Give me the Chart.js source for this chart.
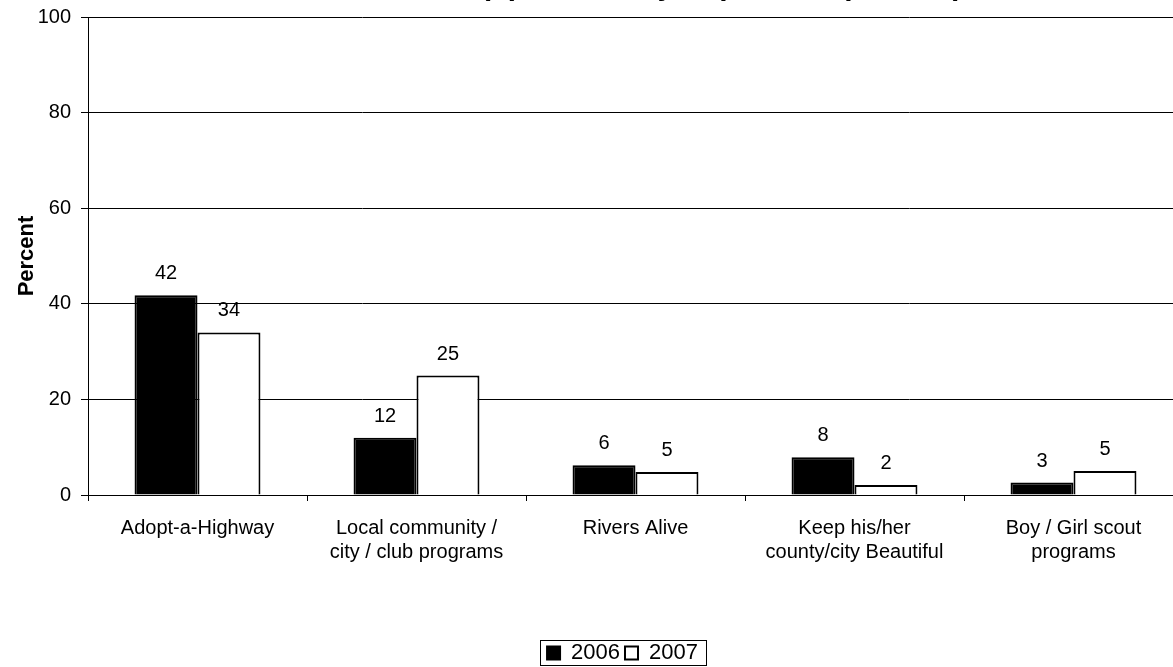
<!DOCTYPE html>
<html>
<head>
<meta charset="utf-8">
<script src="https://cdn.jsdelivr.net/npm/chart.js@4.4.1/dist/chart.umd.min.js"></script>
<style>
  html, body { margin: 0; padding: 0; background: #fff; }
  #wrap { position: relative; width: 1173px; height: 667px; overflow: hidden; background: #fff; }
  #box { position: absolute; left: 0; top: -67px; width: 1224px; height: 734px; }
</style>
</head>
<body>
<div id="wrap">
  <div id="box"><canvas id="chart"></canvas></div>
</div>
<script>
// data
const categories = [
    'Adopt-a-Highway',
    ['Local community /', 'city / club programs'],
    'Rivers Alive',
    ['Keep his/her', 'county/city Beautiful'],
    ['Boy / Girl scout', 'programs']
];
const values2006 = [41.8, 12, 6.2, 7.9, 2.6];
const values2007 = [34, 25, 4.8, 2.1, 5];
const seriesNames = ['2006', '2007'];
const yTicks = [0, 20, 40, 60, 80, 100];
const titleLines = ['Participation in Litter Cleanup Programs (Among', 'All Volunteers) (Asked only of persons present)'];

const FONT = "'Liberation Sans', Arial, sans-serif";

// title and legend sit a little right of the canvas centre in the original
const nudgeBoxes = {
    id: 'nudgeBoxes',
    afterLayout(chart) {
        if (chart.titleBlock) { chart.titleBlock.left += 33; chart.titleBlock.right += 33; }
        if (chart.legend) { chart.legend.left += 31; chart.legend.right += 31; }
    }
};

// numbers above the bars
const barLabels = {
    id: 'barLabels',
    afterDatasetsDraw(chart) {
        const ctx = chart.ctx;
        ctx.save();
        ctx.font = '20px ' + FONT;
        ctx.fillStyle = '#000';
        ctx.textAlign = 'center';
        ctx.textBaseline = 'alphabetic';
        chart.data.datasets.forEach((ds, i) => {
            chart.getDatasetMeta(i).data.forEach((bar, j) => {
                ctx.fillText(Math.round(ds.data[j]), bar.x, bar.y - 16);
            });
        });
        ctx.restore();
    }
};

// thin frame round the legend, like the original
const legendFrame = {
    id: 'legendFrame',
    afterDraw(chart) {
        const boxes = chart.legend.legendHitBoxes;
        if (!boxes || !boxes.length) return;
        const first = boxes[0], last = boxes[boxes.length - 1];
        const ctx = chart.ctx;
        ctx.save();
        ctx.strokeStyle = '#000';
        ctx.lineWidth = 1;
        const x1 = Math.round(first.left) - 6.5;
        const x2 = Math.round(last.left + last.width) + 8.5;
        const y1 = Math.round(first.top) - 1.5;
        const y2 = Math.round(first.top + first.height) + 1.5;
        ctx.strokeRect(x1, y1, x2 - x1, y2 - y1);
        ctx.restore();
    }
};

new Chart(document.getElementById('chart'), {
    type: 'bar',
    data: {
        labels: categories,
        datasets: [
            {
                label: seriesNames[0],
                data: values2006,
                backgroundColor: '#000',
                borderColor: '#000',
                borderWidth: 2
            },
            {
                label: seriesNames[1],
                data: values2007,
                backgroundColor: '#fff',
                borderColor: '#000',
                borderWidth: 2
            }
        ]
    },
    options: {
        responsive: true,
        maintainAspectRatio: false,
        animation: false,
        datasets: { bar: { categoryPercentage: 0.575, barPercentage: 1.0 } },
        layout: { padding: { left: 0, right: 41, top: 0, bottom: -7 } },
        plugins: {
            title: {
                display: true,
                text: titleLines,
                color: '#000',
                font: { family: FONT, size: 30, weight: 'bold', lineHeight: 1.2 },
                padding: { top: 0, bottom: 12 }
            },
            legend: {
                position: 'bottom',
                labels: {
                    color: '#000',
                    font: { family: FONT, size: 22 },
                    boxWidth: 13,
                    boxHeight: 13,
                    padding: 5
                }
            },
            tooltip: { enabled: false }
        },
        scales: {
            x: {
                grid: { drawOnChartArea: false, drawTicks: true, tickLength: 6, color: '#000', offset: true },
                border: { color: '#000' },
                ticks: {
                    color: '#000',
                    font: { family: FONT, size: 20, lineHeight: 1.2 },
                    padding: 15,
                    maxRotation: 0,
                    autoSkip: false
                },
                afterFit(scale) { scale.height = 142; }
            },
            y: {
                min: 0,
                max: 100,
                afterBuildTicks(scale) { scale.ticks = yTicks.map(v => ({ value: v })); },
                grid: { color: '#000', tickLength: 7 },
                border: { color: '#000' },
                ticks: {
                    color: '#000',
                    font: { family: FONT, size: 20 },
                    padding: 10
                },
                title: {
                    display: true,
                    text: 'Percent',
                    color: '#000',
                    font: { family: FONT, size: 22, weight: 'bold', lineHeight: 1.2 },
                    padding: { top: 14, bottom: 0 }
                },
                afterFit(scale) { scale.width = 88; }
            }
        }
    },
    plugins: [nudgeBoxes, barLabels, legendFrame]
});
</script>
</body>
</html>
